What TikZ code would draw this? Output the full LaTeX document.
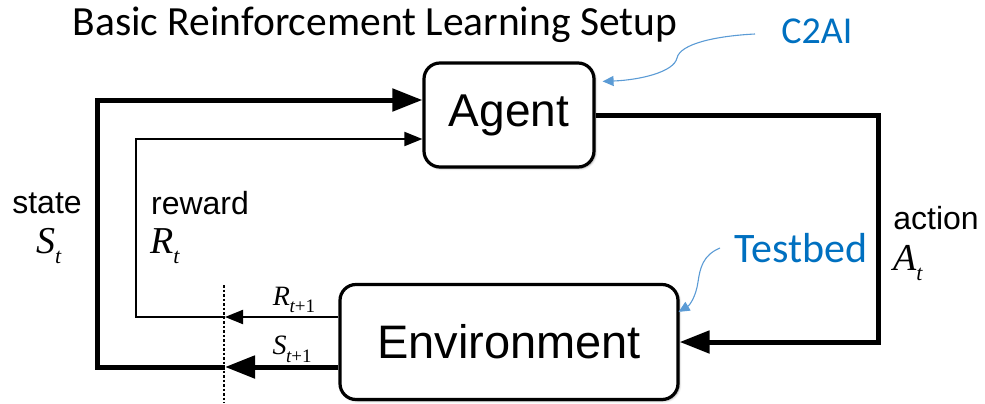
\documentclass[tikz,border=0pt]{standalone}
\usepackage{fontspec}
\usetikzlibrary{arrows.meta,shadows.blur}
\setmainfont{Liberation Sans}
\newfontfamily\calib{Carlito}
\newfontfamily\serifit{Liberation Serif}
\definecolor{notetext}{RGB}{0,112,192}
\definecolor{noteline}{RGB}{91,155,213}
% symbol with subscript, e.g. S_t, in a Times-like italic
\newcommand\symsub[4]{{\fontsize{#3}{#3}\selectfont\serifit\itshape #1\kern-0.5pt\raisebox{-0.28em}{\fontsize{#4}{#4}\selectfont #2}}}
\tikzset{
  box/.style={draw, fill=white, line width=3.2pt, rounded corners=16pt, inner sep=0pt,
    blur shadow={shadow xshift=1.5pt, shadow yshift=-1.5pt, shadow blur steps=6, shadow opacity=35}},
  heavy/.style={line width=5pt},
  light/.style={line width=2pt},
  bighead/.style={-{Triangle[length=30pt,width=22pt]}},
  smallhead/.style={-{Triangle[length=18pt,width=14pt]}},
  lbl/.style={font=\fontsize{32}{32}\selectfont, inner sep=0pt},
  note/.style={text=notetext, inner sep=0pt},
  noteline/.style={draw=noteline, line width=1.1pt, -{Triangle[length=11pt,width=10pt]}},
}
\begin{document}
\begin{tikzpicture}[x=1pt,y=-1pt]
\useasboundingbox (0,0) rectangle (985,404);

% title and annotations
\node[font=\calib\fontsize{41.5}{41.5}\selectfont, inner sep=0pt] (title) at (375,25) {Basic Reinforcement Learning Setup};
\node[note, font=\calib\fontsize{38}{38}\selectfont] (c2ai) at (817,31) {C2AI};
\node[note, font=\calib\fontsize{42}{42}\selectfont] (testbed) at (801,248) {Testbed};

% the two boxes
\node[box, minimum width=170pt, minimum height=104pt] (agent) at (509,115)
  {\fontsize{46}{46}\selectfont Agent};
\node[box, minimum width=338pt, minimum height=115pt] (env) at (509,342)
  {\fontsize{47}{47}\selectfont Environment};

% the cut between time steps
\coordinate (cutTop) at (224,285);
\coordinate (cutBot) at (224,403);
\draw[line width=1.3pt, dash pattern=on 2.5pt off 2pt] (cutTop) -- (cutBot);

\coordinate (cutR) at (225,317);
\coordinate (cutS) at (225,367);
\coordinate (rCorner) at (136,317);
\coordinate (sCorner) at (97,367);

% next reward and state leaving the environment
\draw[light, smallhead] ([yshift=25pt]env.west) -- (cutR);
\draw[heavy, bighead] ([yshift=-25pt]env.west) -- (cutS);

% fed back to the agent
\draw[light, smallhead] (cutR) -- (rCorner) |- ([yshift=-24pt]agent.west);
\draw[heavy, bighead] (cutS) -- (sCorner) |- ([yshift=15pt]agent.west);

% action
\coordinate (aCorner) at (878,115);
\draw[heavy, bighead] (agent.east) -- (aCorner) |- (env.east);

% labels
\node[lbl] (state) at (47,203) {state};
\node[inner sep=0pt] (st) at (49,246) {\symsub{S}{t}{38}{22}};
\node[lbl] (reward) at (200,203) {reward};
\node[inner sep=0pt] (rt) at (165,246) {\symsub{R}{t}{38}{22}};
\node[lbl] (action) at (936,218) {action};
\node[inner sep=0pt] (at) at (908,263) {\symsub{A}{t}{38}{22}};
\node[inner sep=0pt] (rt1) at (294,300) {\symsub{R}{t{\upshape+1}}{28}{19}};
\node[inner sep=0pt] (st1) at (292,349) {\symsub{S}{t{\upshape+1}}{28}{19}};

% annotation pointers
\coordinate (c2Start) at (755,34);
\coordinate (tbStart) at (720,248);
\draw[noteline] (c2Start) .. controls (715,36) and (680,44) .. (677,58)
  .. controls (674,72) and (640,80) .. ([xshift=7pt,yshift=-20pt]agent.north east);
\draw[noteline] (tbStart) .. controls (703,255) and (700,268) .. (698,282)
  .. controls (696,296) and (690,305) .. ([xshift=-1pt,yshift=-29pt]env.north east);
\end{tikzpicture}
\end{document}
